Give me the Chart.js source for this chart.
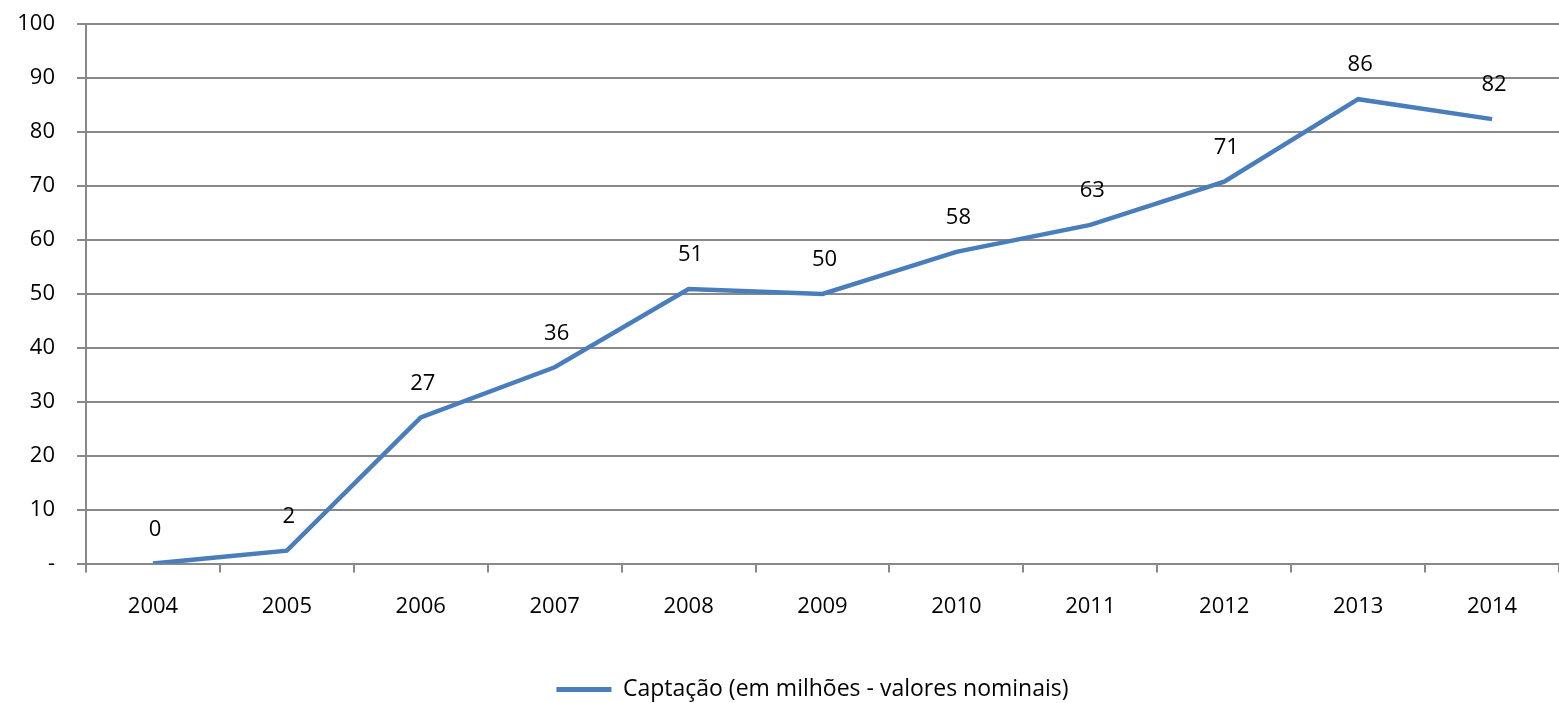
<!DOCTYPE html>
<html>
<head>
<meta charset="utf-8">
<script src="https://cdn.jsdelivr.net/npm/chart.js@4/dist/chart.umd.min.js"></script>
<style>
  html, body { margin: 0; padding: 0; background: #fff; }
  #wrap { width: 1559px; height: 703px; position: relative; }
</style>
</head>
<body>
<div id="wrap"><canvas id="chart"></canvas></div>
<script>
// dados
const anos = ['2004', '2005', '2006', '2007', '2008', '2009', '2010', '2011', '2012', '2013', '2014'];
const captacao = [0, 2.4, 27.1, 36.4, 50.9, 50.0, 57.8, 62.8, 70.8, 86.1, 82.4];
const yTicks = [0, 10, 20, 30, 40, 50, 60, 70, 80, 90, 100];
const serieNome = 'Captação (em milhões - valores nominais)';

const FONT = "'Open Sans', 'Noto Sans', sans-serif";
const AZUL = '#4A7EBB';
const GRADE = '#888888';

// rótulos de dados acima de cada ponto
const rotulos = {
  id: 'rotulos',
  afterLayout(chart) {
    // legenda centrada um pouco à direita, como no original
    chart.legend.left += 58;
  },
  afterDatasetsDraw(chart) {
    const { ctx } = chart;
    const meta = chart.getDatasetMeta(0);
    ctx.save();
    ctx.font = '22px ' + FONT;
    ctx.fillStyle = '#000';
    ctx.textAlign = 'center';
    ctx.textBaseline = 'middle';
    meta.data.forEach((pt, i) => {
      ctx.fillText(Math.round(captacao[i]).toString(), pt.x + 2, pt.y - 34);
    });
    ctx.restore();
  }
};

new Chart(document.getElementById('chart'), {
  type: 'line',
  data: {
    labels: anos,
    datasets: [{
      label: serieNome,
      data: captacao,
      borderColor: AZUL,
      backgroundColor: AZUL,
      borderWidth: 4.5,
      pointRadius: 0,
      tension: 0,
      fill: false
    }]
  },
  options: {
    responsive: true,
    maintainAspectRatio: false,
    animation: false,
    layout: { padding: { top: 0, right: 0, left: 8, bottom: -8 } },
    plugins: {
      tooltip: { enabled: false },
      legend: {
        position: 'bottom',
        labels: {
          font: { family: FONT, size: 23 },
          color: '#000',
          boxWidth: 55,
          boxHeight: 0,
          padding: 37,
          generateLabels() {
            return [{ text: serieNome, strokeStyle: AZUL, fillStyle: AZUL, lineWidth: 5, lineCap: 'round', datasetIndex: 0 }];
          }
        }
      }
    },
    scales: {
      x: {
        offset: true,
        grid: { offset: true, drawOnChartArea: false, drawTicks: true, tickLength: 9, color: GRADE, lineWidth: 2 },
        border: { color: GRADE, width: 2 },
        ticks: { font: { family: FONT, size: 22 }, color: '#000', padding: 21, maxRotation: 0 }
      },
      y: {
        min: 0,
        max: 100,
        afterBuildTicks(scale) { scale.ticks = yTicks.map(v => ({ value: v })); },
        afterFit(scale) { scale.width = 78; },
        grid: { color: GRADE, lineWidth: 2, tickLength: 9 },
        border: { color: GRADE, width: 2 },
        ticks: {
          font: { family: FONT, size: 22 },
          color: '#000',
          padding: 11,
          // espaço à direita para afastar o rótulo do eixo
          callback: v => (v === 0 ? '-' : String(v)) + '\u2002'
        }
      }
    }
  },
  plugins: [rotulos]
});
</script>
</body>
</html>
